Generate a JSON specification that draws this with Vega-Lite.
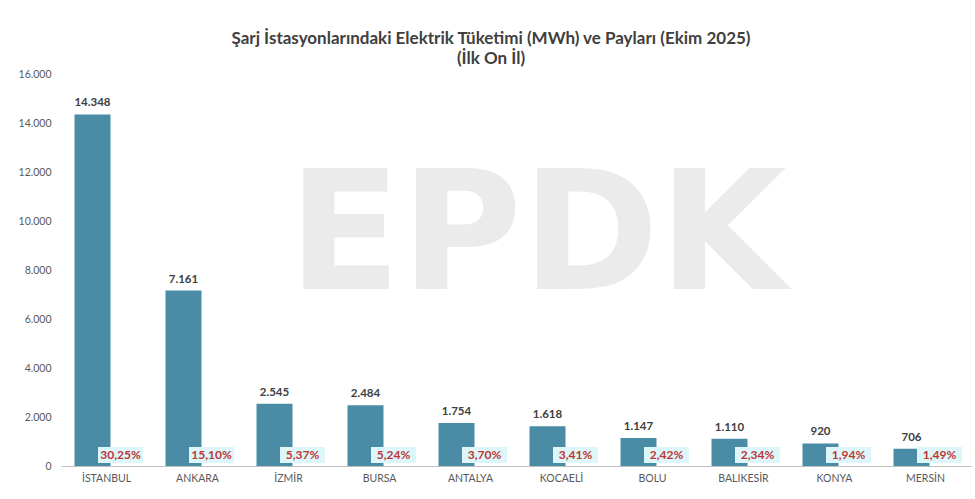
{
  "$schema": "https://vega.github.io/schema/vega-lite/v6.json",
  "width": 910,
  "height": 392,
  "autosize": {"type": "none"},
  "padding": {"left": 61, "top": 74, "right": 4, "bottom": 33},
  "background": "white",
  "config": {
    "view": {"stroke": null},
    "font": "Lato",
    "locale": {"number": {"decimal": ",", "thousands": ".", "grouping": [3], "currency": ["", ""]}}
  },
  "title": {
    "text": ["Şarj İstasyonlarındaki Elektrik Tüketimi (MWh) ve Payları (Ekim 2025)", "(İlk On İl)"],
    "font": "Lato",
    "fontSize": 17,
    "fontWeight": "bold",
    "color": "#404040",
    "lineHeight": 20,
    "anchor": "middle",
    "dx": -25,
    "offset": 1
  },
  "datasets": {
    "main": [
      {"city": "İSTANBUL", "mwh": 14348, "share": 0.3025},
      {"city": "ANKARA", "mwh": 7161, "share": 0.1510},
      {"city": "İZMİR", "mwh": 2545, "share": 0.0537},
      {"city": "BURSA", "mwh": 2484, "share": 0.0524},
      {"city": "ANTALYA", "mwh": 1754, "share": 0.0370},
      {"city": "KOCAELİ", "mwh": 1618, "share": 0.0341},
      {"city": "BOLU", "mwh": 1147, "share": 0.0242},
      {"city": "BALIKESİR", "mwh": 1110, "share": 0.0234},
      {"city": "KONYA", "mwh": 920, "share": 0.0194},
      {"city": "MERSİN", "mwh": 706, "share": 0.0149}
    ],
    "mark": [{"w": "EPDK"}]
  },
  "data": {"name": "main"},
  "encoding": {
    "x": {
      "field": "city",
      "type": "nominal",
      "sort": null,
      "scale": {
        "domain": ["İSTANBUL", "ANKARA", "İZMİR", "BURSA", "ANTALYA", "KOCAELİ", "BOLU", "BALIKESİR", "KONYA", "MERSİN"],
        "paddingInner": 0,
        "paddingOuter": 0
      },
      "axis": {
        "title": null,
        "labelAngle": 0,
        "labelColor": "#595959",
        "labelFontSize": 10.5,
        "labelPadding": 7,
        "ticks": false,
        "domainColor": "#bfbfbf",
        "domainWidth": 1.2
      }
    }
  },
  "layer": [
    {
      "data": {"name": "mark"},
      "mark": {"type": "text", "font": "DejaVu Sans", "fontWeight": "bold", "fontSize": 165, "color": "#ebebeb", "baseline": "middle", "align": "center", "dx": 67},
      "encoding": {
        "x": {"datum": "ANTALYA"},
        "y": {"datum": 9250},
        "text": {"field": "w"}
      }
    },
    {
      "mark": {"type": "bar", "color": "#4A8CA6", "width": 36, "xOffset": -14},
      "encoding": {
        "y": {
          "field": "mwh",
          "type": "quantitative",
          "scale": {"domain": [0, 16000]},
          "axis": {
            "title": null,
            "values": [0, 2000, 4000, 6000, 8000, 10000, 12000, 14000, 16000],
            "format": ",d",
            "labelColor": "#595959",
            "labelFontSize": 10.5,
            "labelPadding": 10,
            "domain": false,
            "ticks": false,
            "gridColor": "#ececec",
            "gridWidth": 1
          }
        }
      }
    },
    {
      "mark": {"type": "text", "fontWeight": "bold", "fontSize": 11.5, "color": "#404040", "baseline": "bottom", "dy": -6, "xOffset": -14},
      "encoding": {
        "y": {"field": "mwh", "type": "quantitative"},
        "text": {"field": "mwh", "type": "quantitative", "format": ",d"}
      }
    },
    {
      "mark": {"type": "bar", "color": "#DDF6F9", "width": 45, "xOffset": 14},
      "encoding": {
        "y": {"datum": 120},
        "y2": {"datum": 780}
      }
    },
    {
      "mark": {"type": "text", "fontWeight": "bold", "fontSize": 12, "color": "#BE3535", "baseline": "middle", "xOffset": 14},
      "encoding": {
        "y": {"datum": 450},
        "text": {"field": "share", "type": "quantitative", "format": ".2%"}
      }
    }
  ]
}
